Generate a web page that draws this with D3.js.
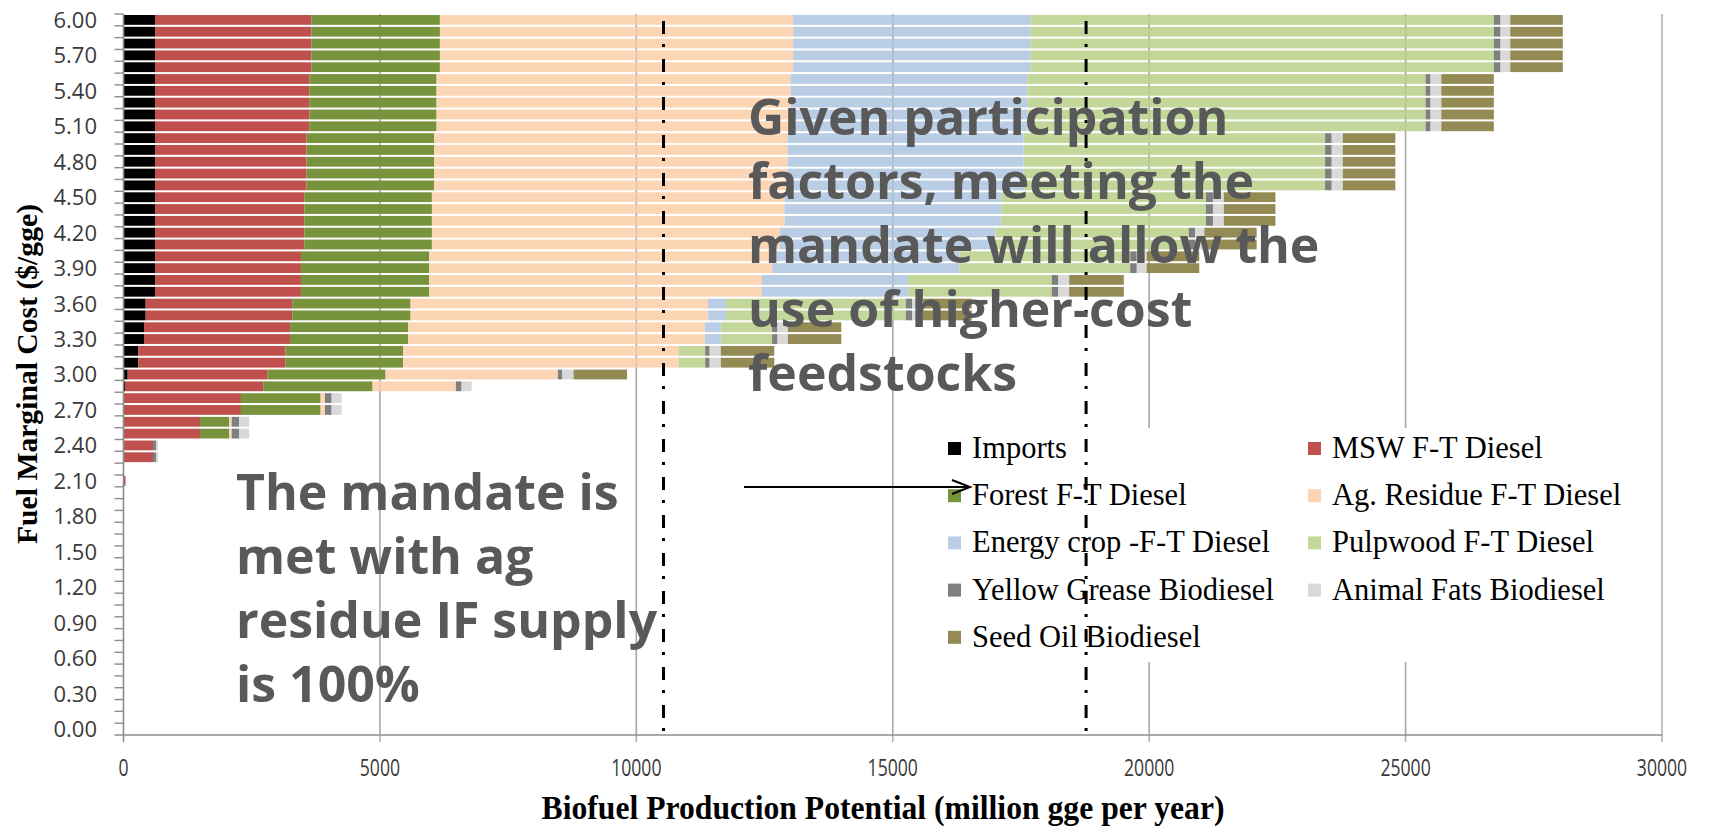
<!DOCTYPE html>
<html><head><meta charset="utf-8">
<script src="https://cdn.jsdelivr.net/npm/d3@7"></script>
<style>body{margin:0;background:#fff;} svg{display:block;}</style>
</head><body>
<svg id="chart" width="1712" height="831"></svg>
<script>
// ---------------- DATA ----------------
const costLabels = ["0.00","0.10","0.20","0.30","0.40","0.50","0.60","0.70","0.80","0.90",
  "1.00","1.10","1.20","1.30","1.40","1.50","1.60","1.70","1.80","1.90",
  "2.00","2.10","2.20","2.30","2.40","2.50","2.60","2.70","2.80","2.90",
  "3.00","3.10","3.20","3.30","3.40","3.50","3.60","3.70","3.80","3.90",
  "4.00","4.10","4.20","4.30","4.40","4.50","4.60","4.70","4.80","4.90",
  "5.00","5.10","5.20","5.30","5.40","5.50","5.60","5.70","5.80","5.90","6.00"];
const yTickLabels = ["0.00","0.30","0.60","0.90","1.20","1.50","1.80","2.10","2.40","2.70",
  "3.00","3.30","3.60","3.90","4.20","4.50","4.80","5.10","5.40","5.70","6.00"];
const xTicks = [0, 5000, 10000, 15000, 20000, 25000, 30000];

// rows that carry bars (fuel marginal cost, $/gge)
const rowCosts = ["2.10","2.20","2.30","2.40","2.50","2.60","2.70","2.80","2.90","3.00",
  "3.10","3.20","3.30","3.40","3.50","3.60","3.70","3.80","3.90","4.00",
  "4.10","4.20","4.30","4.40","4.50","4.60","4.70","4.80","4.90","5.00",
  "5.10","5.20","5.30","5.40","5.50","5.60","5.70","5.80","5.90","6.00"];

// production potential by feedstock (million gge per year)
const imports      = [0,0,0,0,0,0,0,0,29,82, 289,289,400,400,432,432,614,614,614,614,
                      614,614,614,614,614,614,614,614,614,614, 614,614,614,614,614,614,614,614,614,614];
const mswFT        = [40,0,575,575,1491,1491,2290,2290,2696,2728, 2872,2872,2846,2846,2858,2858,2846,2846,2846,2846,
                      2911,2911,2911,2911,2911,2957,2957,2957,2957,2957, 3008,3008,3008,3008,3008,3054,3054,3054,3054,3054];
const forestFT     = [0,0,0,0,572,572,1554,1554,2132,2301, 2293,2293,2306,2306,2308,2308,2501,2501,2501,2501,
                      2489,2489,2489,2489,2489,2489,2489,2489,2489,2489, 2483,2483,2483,2483,2483,2502,2502,2502,2502,2502];
const agResidueFT  = [0,0,0,0,47,47,84,84,1624,3359, 5367,5367,5783,5783,5802,5802,6489,6489,6689,6689,
                      6786,6786,6877,6877,6877,6886,6886,6886,6886,6886, 6900,6900,6900,6900,6900,6887,6887,6887,6887,6887];
const energyCropFT = [0,0,0,0,0,0,0,0,0,0, 0,0,312,312,350,350,2850,2850,3650,3650,
                      4200,4200,4229,4229,4229,4607,4607,4607,4607,4607, 4621,4621,4621,4621,4621,4629,4629,4629,4629,4629];
const pulpwoodFT   = [0,0,0,0,0,0,0,0,0,0, 522,522,1000,1000,3503,3503,2800,2800,3330,3330,
                      3770,3770,3986,3986,3986,5877,5877,5877,5877,5877, 7764,7764,7764,7764,7764,9035,9035,9035,9035,9035];
const yellowGrease = [0,0,65,65,147,147,130,130,111,87, 87,87,106,106,127,127,130,130,128,128,
                      130,130,138,138,138,130,130,130,130,130, 97,97,97,97,97,131,131,131,131,131];
const animalFats   = [0,0,32,32,195,195,195,195,196,219, 217,217,200,200,210,210,210,210,192,192,
                      176,176,212,212,212,215,215,215,215,215, 209,209,209,209,209,189,189,189,189,189];
const seedOil      = [0,0,0,0,0,0,0,0,0,1043, 1043,1043,1043,1043,950,950,1066,1066,1027,1027,
                      1020,1020,1006,1006,1006,1025,1025,1025,1025,1025, 1025,1025,1025,1025,1025,1025,1025,1025,1025,1025];

const seriesNames = ["Imports","MSW F-T Diesel","Forest F-T Diesel","Ag. Residue F-T Diesel",
  "Energy crop -F-T Diesel","Pulpwood F-T Diesel","Yellow Grease Biodiesel","Animal Fats Biodiesel","Seed Oil Biodiesel"];
const seriesValues = [imports, mswFT, forestFT, agResidueFT, energyCropFT, pulpwoodFT, yellowGrease, animalFats, seedOil];
const seriesColors = ["#000000","#c0504d","#77933c","#fcd5b5","#b9cde5","#c4d79b","#7f7f7f","#d9d9d9","#948a54"];

const mandateLines = [10530, 18770];
const note1 = ["Given participation","factors, meeting the","mandate will allow the","use of higher-cost","feedstocks"];
const note2 = ["The mandate is","met with ag","residue IF supply","is 100%"];

// ---------------- CHART ----------------
const svg = d3.select("#chart");
const P = {left:123.5, right:1662, top:14, bottom:735};

const x = d3.scaleLinear().domain([0, 30000]).range([P.left, P.right]);
const y = d3.scaleBand().domain(costLabels).range([P.bottom, P.top]).paddingInner(0.17).paddingOuter(0.085);
const cellOff = (y.step() - y.bandwidth()) / 2;

const rows = rowCosts.map((c, i) => {
  const o = {cost: c};
  seriesNames.forEach((s, k) => o[s] = seriesValues[k][i]);
  return o;
});
const stacked = d3.stack().keys(seriesNames)(rows);

// grid lines (behind)
svg.append("g").selectAll("line").data(xTicks.slice(1)).join("line")
  .attr("x1", d => x(d)).attr("x2", d => x(d))
  .attr("y1", P.top).attr("y2", P.bottom + 7)
  .attr("stroke", "#b3b3b3").attr("stroke-width", 1.6);

// bars
const gBars = svg.append("g");
stacked.forEach((layer, k) => {
  gBars.append("g").attr("fill", seriesColors[k])
    .selectAll("rect").data(layer.filter(d => d[1] > d[0])).join("rect")
    .attr("x", d => x(d[0]))
    .attr("width", d => x(d[1]) - x(d[0]))
    .attr("y", d => y(d.data.cost))
    .attr("height", y.bandwidth());
});

// faint grid showing through bars
svg.append("g").selectAll("line").data(xTicks.slice(1, -1)).join("line")
  .attr("x1", d => x(d)).attr("x2", d => x(d))
  .attr("y1", P.top).attr("y2", P.bottom)
  .attr("stroke", "#808080").attr("stroke-opacity", 0.18).attr("stroke-width", 1.5);

// legend background
svg.append("rect").attr("x", 935).attr("y", 428).attr("width", 705).attr("height", 234).attr("fill", "#fff");

// axes
const axisCol = "#8c8c8c";
svg.append("line").attr("x1", P.left).attr("x2", P.left).attr("y1", P.top).attr("y2", P.bottom)
  .attr("stroke", axisCol).attr("stroke-width", 1.6);
svg.append("line").attr("x1", P.left - 9).attr("x2", P.right).attr("y1", P.bottom).attr("y2", P.bottom)
  .attr("stroke", axisCol).attr("stroke-width", 1.6);
svg.append("g").selectAll("line").data(costLabels).join("line")
  .attr("x1", P.left - 9).attr("x2", P.left)
  .attr("y1", d => y(d) - cellOff).attr("y2", d => y(d) - cellOff)
  .attr("stroke", axisCol).attr("stroke-width", 1.4);
svg.append("line").attr("x1", P.left).attr("x2", P.left).attr("y1", P.bottom).attr("y2", P.bottom + 7)
  .attr("stroke", axisCol).attr("stroke-width", 1.6);

// y tick labels
svg.append("g").selectAll("text").data(yTickLabels).join("text")
  .attr("x", 97).attr("y", d => y(d) + y.bandwidth() / 2)
  .attr("dy", "0.36em").attr("text-anchor", "end")
  .attr("font-family", "'Open Sans', sans-serif").attr("font-size", 22).attr("fill", "#3a3a3a")
  .text(d => d);

// x tick labels
svg.append("g").selectAll("text").data(xTicks).join("text")
  .attr("transform", d => `translate(${x(d)},776) scale(0.8,1.05)`)
  .attr("text-anchor", "middle")
  .attr("font-family", "'Open Sans', sans-serif").attr("font-size", 22).attr("fill", "#3a3a3a")
  .text(d => d);

// axis titles
svg.append("text").attr("transform", "translate(37,374) rotate(-90)")
  .attr("text-anchor", "middle").attr("font-family", "'Liberation Serif', serif")
  .attr("font-weight", "bold").attr("font-size", 29)
  .attr("textLength", 340).attr("lengthAdjust", "spacingAndGlyphs")
  .text("Fuel Marginal Cost ($/gge)");
svg.append("text").attr("transform", "translate(883,819) scale(1,1.1)")
  .attr("text-anchor", "middle").attr("font-family", "'Liberation Serif', serif")
  .attr("font-weight", "bold").attr("font-size", 31)
  .attr("textLength", 683).attr("lengthAdjust", "spacingAndGlyphs")
  .text("Biofuel Production Potential (million gge per year)");

// legend
const legX = [953, 1313], legY0 = 448, legDY = 47.2;
const gLeg = svg.append("g");
seriesNames.forEach((s, i) => {
  const cx = legX[i % 2], cy = legY0 + Math.floor(i / 2) * legDY;
  gLeg.append("rect").attr("x", cx - 5).attr("y", cy - 6).attr("width", 13).attr("height", 13).attr("fill", seriesColors[i]);
  gLeg.append("text").attr("x", cx + 19).attr("y", cy + 10)
    .attr("font-family", "'Liberation Serif', serif").attr("font-size", 30.5).attr("fill", "#000")
    .text(s);
});

// mandate dash-dot lines
svg.append("g").selectAll("line").data(mandateLines).join("line")
  .attr("x1", d => x(d)).attr("x2", d => x(d))
  .attr("y1", 21).attr("y2", P.bottom)
  .attr("stroke", "#000").attr("stroke-width", 3)
  .attr("stroke-dasharray", "13,10,3,12");

// annotations
const noteStyle = t => t.attr("font-family", "'Open Sans', sans-serif").attr("font-weight", "bold")
  .attr("font-size", 50).attr("fill", "#595959");
const t1 = svg.append("text").call(noteStyle);
note1.forEach((l, i) => t1.append("tspan").attr("x", 748).attr("y", 135 + i * 64).text(l));
const t2 = svg.append("text").call(noteStyle);
note2.forEach((l, i) => t2.append("tspan").attr("x", 236).attr("y", 510 + i * 64).text(l));

// arrow
svg.append("line").attr("x1", 744).attr("x2", 969).attr("y1", 487).attr("y2", 487)
  .attr("stroke", "#000").attr("stroke-width", 2);
svg.append("polyline").attr("points", "952,480 970,487 952,494")
  .attr("fill", "none").attr("stroke", "#000").attr("stroke-width", 2);
</script>
</body></html>
